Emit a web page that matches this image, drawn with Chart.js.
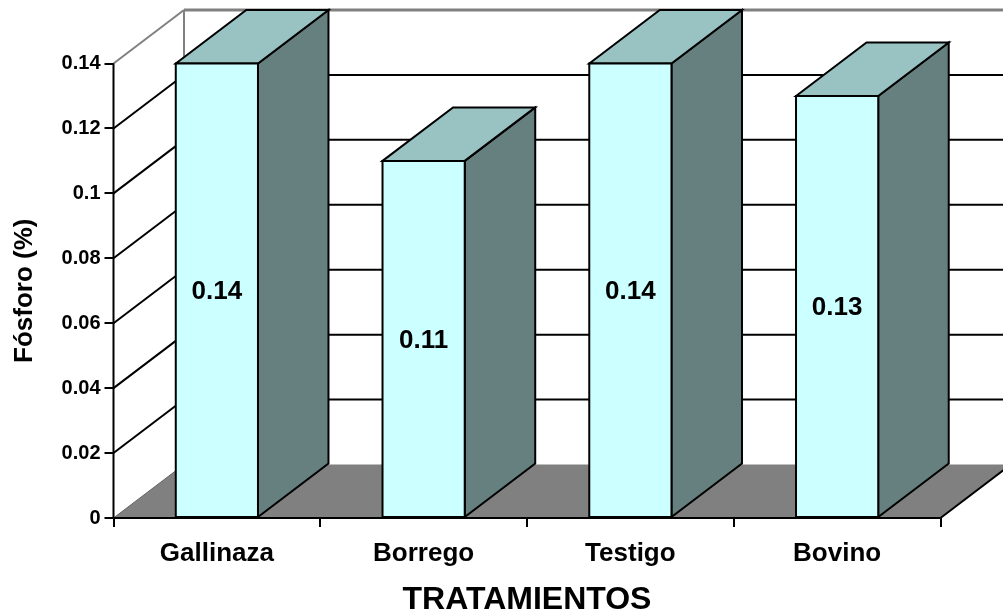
<!DOCTYPE html>
<html>
<head>
<meta charset="utf-8">
<style>
  html, body { margin: 0; padding: 0; background: #fff; overflow: hidden; }
  #wrap { width: 1003px; height: 616px; }
</style>
</head>
<body>
<div id="wrap"><canvas id="grafica" width="1003" height="616"></canvas></div>
<script src="https://cdn.jsdelivr.net/npm/chart.js@4"></script>
<script>
// datos de la grafica
const tratamientos = ['Gallinaza', 'Borrego', 'Testigo', 'Bovino'];
const fosforo = [0.14, 0.11, 0.14, 0.13];
const ticksY = [0, 0.02, 0.04, 0.06, 0.08, 0.1, 0.12, 0.14];

// desplazamiento de la profundidad 3D
const fondoX = 70.5;
const fondoY = -53.5;
const fuente = 'Arial, "Liberation Sans", sans-serif';

function cara(ctx, puntos, relleno, borde, grosor) {
    ctx.beginPath();
    puntos.forEach(function (p, i) {
        if (i === 0) ctx.moveTo(p[0], p[1]);
        else ctx.lineTo(p[0], p[1]);
    });
    ctx.closePath();
    if (relleno) {
        ctx.fillStyle = relleno;
        ctx.fill();
    }
    if (borde) {
        ctx.strokeStyle = borde;
        ctx.lineWidth = grosor;
        ctx.lineJoin = 'miter';
        ctx.stroke();
    }
}

function linea(ctx, x1, y1, x2, y2, color, grosor) {
    ctx.beginPath();
    ctx.moveTo(x1, y1);
    ctx.lineTo(x2, y2);
    ctx.strokeStyle = color;
    ctx.lineWidth = grosor;
    ctx.stroke();
}

// paredes, piso y rejilla en perspectiva, detras de las barras
const paredes = {
    id: 'paredes',
    beforeDatasetsDraw(chart) {
        const ctx = chart.ctx;
        const a = chart.chartArea;
        const y = chart.scales.y;
        ctx.save();
        // piso
        cara(ctx, [
            [a.left, a.bottom],
            [a.right, a.bottom],
            [a.right + fondoX, a.bottom + fondoY],
            [a.left + fondoX, a.bottom + fondoY]
        ], '#808080', null, 0);
        linea(ctx, a.left, a.bottom, a.left + fondoX, a.bottom + fondoY, '#666666', 1);
        linea(ctx, a.right, a.bottom, a.right + fondoX, a.bottom + fondoY, '#000000', 2);

        // rejilla: pared izquierda y pared del fondo
        ticksY.forEach(function (t) {
            const py = y.getPixelForValue(t);
            if (t === 0) return;
            const ultimo = t === ticksY[ticksY.length - 1];
            const color = ultimo ? '#808080' : '#000000';
            linea(ctx, a.left, py, a.left + fondoX, py + fondoY, color, 2);
            linea(ctx, a.left + fondoX, py + fondoY, a.right + fondoX, py + fondoY, color, ultimo ? 3 : 2);
        });
        // arista vertical del fondo
        linea(ctx, a.left + fondoX, a.top + fondoY, a.left + fondoX, a.bottom + fondoY, '#808080', 2);
        ctx.restore();
    },
    afterDatasetsDraw(chart) {
        const ctx = chart.ctx;
        const a = chart.chartArea;
        const meta = chart.getDatasetMeta(0);
        ctx.save();
        meta.data.forEach(function (barra) {
            const izq = barra.x - barra.width / 2;
            const der = barra.x + barra.width / 2;
            const arriba = barra.y;
            const base = barra.base;
            // cara lateral
            cara(ctx, [
                [der, arriba],
                [der + fondoX, arriba + fondoY],
                [der + fondoX, base + fondoY],
                [der, base]
            ], '#668080', '#000000', 2);
            // cara superior
            cara(ctx, [
                [izq, arriba],
                [izq + fondoX, arriba + fondoY],
                [der + fondoX, arriba + fondoY],
                [der, arriba]
            ], '#99C2C2', '#000000', 2);
            // cara frontal
            cara(ctx, [
                [izq, arriba],
                [der, arriba],
                [der, base],
                [izq, base]
            ], '#CCFFFF', '#000000', 2);
        });
        // ejes frontales
        linea(ctx, a.left, a.top, a.left, a.bottom, '#000000', 2);
        linea(ctx, a.left, a.bottom, a.right, a.bottom, '#000000', 2);

        // etiquetas de valor
        ctx.fillStyle = '#000000';
        ctx.font = 'bold 26px ' + fuente;
        ctx.textAlign = 'center';
        ctx.textBaseline = 'middle';
        meta.data.forEach(function (barra, i) {
            ctx.fillText(fosforo[i].toFixed(2), barra.x, (barra.y + barra.base) / 2 + 1.5);
        });
        ctx.restore();
    }
};

const config = {
    type: 'bar',
    data: {
        labels: tratamientos,
        datasets: [{
            data: fosforo,
            backgroundColor: '#CCFFFF',
            barPercentage: 0.8,
            categoryPercentage: 0.497
        }]
    },
    options: {
        responsive: false,
        animation: false,
        layout: {
            padding: { left: 0, right: 62.5, top: 63.5, bottom: 0 }
        },
        plugins: {
            legend: { display: false },
            tooltip: { enabled: false }
        },
        scales: {
            x: {
                offset: true,
                grid: {
                    display: true,
                    drawOnChartArea: false,
                    offset: true,
                    color: '#000000',
                    lineWidth: 2,
                    tickLength: 9
                },
                border: { display: false },
                ticks: {
                    color: '#000000',
                    padding: 11,
                    font: { family: fuente, size: 26, weight: 'bold' }
                },
                title: {
                    display: true,
                    text: 'TRATAMIENTOS',
                    color: '#000000',
                    padding: { top: 10, bottom: -3 },
                    font: { family: fuente, size: 32, weight: 'bold' }
                },
                afterFit(scale) { scale.height = 98; }
            },
            y: {
                min: 0,
                max: 0.14,
                afterBuildTicks(scale) {
                    scale.ticks = ticksY.map(function (v) { return { value: v }; });
                },
                grid: {
                    display: true,
                    drawOnChartArea: false,
                    color: '#000000',
                    lineWidth: 2,
                    tickLength: 9
                },
                border: { display: false },
                ticks: {
                    color: '#000000',
                    padding: 4,
                    font: { family: fuente, size: 20, weight: 'bold' },
                    callback(value) { return String(value); }
                },
                title: {
                    display: true,
                    text: 'Fósforo (%)',
                    color: '#000000',
                    padding: { top: 9, bottom: 4 },
                    font: { family: fuente, size: 26, weight: 'bold' }
                },
                afterFit(scale) { scale.width = 113.5; }
            }
        }
    },
    plugins: [paredes]
};

const ctx = document.getElementById('grafica').getContext('2d');
const grafica = new Chart(ctx, config);
</script>
</body>
</html>
